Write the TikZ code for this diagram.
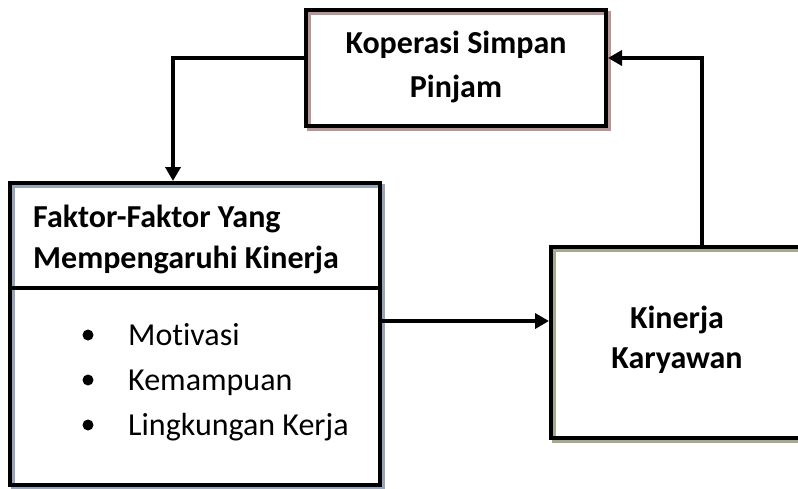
\documentclass[tikz,border=0pt]{standalone}
\usepackage{fontspec}
\setmainfont{Carlito}[Ligatures=NoCommon]
\usetikzlibrary{arrows.meta}
\definecolor{bayangA}{RGB}{185,150,150}
\definecolor{bayangB}{RGB}{150,165,185}
\definecolor{bayangC}{RGB}{165,170,140}

\begin{document}
\begin{tikzpicture}[x=1pt,y=-1pt]
		\tikzstyle{every node}+=[inner sep=0pt]
		\tikzstyle{kotak}=[draw=black, line width=4pt, preaction={fill=white}]
		\tikzstyle{tebal}=[font=\fontsize{32}{38}\selectfont\bfseries]
		\tikzstyle{biasa}=[font=\fontsize{32}{38}\selectfont]
		\tikzstyle{panah}=[line width=3.5pt, -{Triangle[length=14pt,width=15pt]}]
		\useasboundingbox (0,0) rectangle (798,488);
		\clip (0,0) rectangle (798,488);
		\node [kotak, preaction={draw=bayangA, line width=3.5pt, transform canvas={shift={(3pt,-3pt)}}}, minimum width=300pt, minimum height=116pt] (kop) at (456,68) {};
		\node [tebal, anchor=base] (kop1) at (456,53) {Koperasi Simpan};
		\node [tebal, anchor=base] (kop2) at (456,97) {Pinjam};
		\node [kotak, preaction={draw=bayangB, line width=3.5pt, transform canvas={shift={(3pt,-3pt)}}}, minimum width=370pt, minimum height=302pt] (fak) at (195,334) {};
		\node [tebal, anchor=base west] (fak1) at (33,227) {Faktor-Faktor Yang};
		\node [tebal, anchor=base west] (fak2) at (33,268) {Mempengaruhi Kinerja};
		\coordinate (batas) at (0,288);
		\draw [line width=3.5pt] (fak.west |- batas) -- (fak.east |- batas);
		\node [circle, fill=black, minimum size=11pt] (b1) at (88,335) {};
		\node [biasa, anchor=base west] (mot) at (128,345) {Motivasi};
		\node [circle, fill=black, minimum size=11pt] (b2) at (88,380) {};
		\node [biasa, anchor=base west] (kem) at (128,390) {Kemampuan};
		\node [circle, fill=black, minimum size=11pt] (b3) at (88,425) {};
		\node [biasa, anchor=base west] (lin) at (128,435) {Lingkungan Kerja};
		\node [kotak, preaction={draw=bayangC, line width=3.5pt, transform canvas={shift={(3pt,-3pt)}}}, minimum width=254pt, minimum height=191pt] (kin) at (678,342.5) {};
		\node [tebal, anchor=base] (kin1) at (677,328) {Kinerja};
		\node [tebal, anchor=base] (kin2) at (677,368) {Karyawan};
		\draw [panah] ([yshift=10pt]kop.west) -| ([xshift=-22pt]fak.north);
		\draw [panah] ([xshift=24pt]kin.north) |- ([yshift=10pt]kop.east);
		\draw [panah] ([yshift=13pt]fak.east) -- ([yshift=13pt]fak.east -| kin.west);
\end{tikzpicture}
\end{document}
